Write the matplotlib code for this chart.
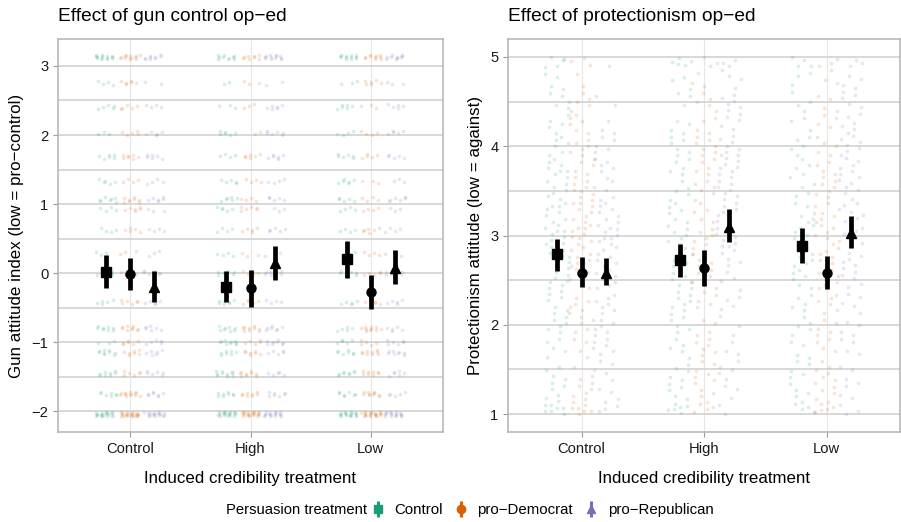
import matplotlib
matplotlib.use("Agg")
import matplotlib.pyplot as plt
from matplotlib.lines import Line2D
import numpy as np

plt.rcParams['font.family'] = ['Liberation Sans', 'DejaVu Sans']

# categories
cred_levels = ['Control', 'High', 'Low']
persuasion = ['Control', 'pro\u2212Democrat', 'pro\u2212Republican']
colors = ['#1B9E77', '#D95F02', '#7570B3']
markers = ['s', 'o', '^']

# point estimates and 95% intervals (rows: persuasion, cols: credibility)
gun_est = [[0.02, -0.20, 0.20], [-0.01, -0.22, -0.28], [-0.20, 0.14, 0.07]]
gun_lo = [[-0.21, -0.42, -0.07], [-0.25, -0.49, -0.52], [-0.42, -0.10, -0.16]]
gun_hi = [[0.26, 0.03, 0.46], [0.22, 0.04, -0.03], [0.03, 0.39, 0.33]]

prot_est = [[2.79, 2.73, 2.88], [2.58, 2.64, 2.58], [2.58, 3.10, 3.03]]
prot_lo = [[2.60, 2.53, 2.69], [2.42, 2.43, 2.40], [2.45, 2.93, 2.86]]
prot_hi = [[2.96, 2.90, 3.08], [2.76, 2.84, 2.77], [2.75, 3.30, 3.22]]

# raw responses: distinct levels and how many answers sit on each
gun_levels = [3.13, 2.76, 2.41, 2.03, 1.69, 1.33, 1.07, 0.93, 0.62, 0.28,
              0.0, -0.42, -0.8, -1.0, -1.15, -1.45, -1.75, -2.04]
gun_counts_control = [[14, 4, 5, 3, 6, 5, 7, 4, 4, 3, 6, 5, 8, 3, 9, 8, 7, 18],
                      [10, 2, 3, 6, 4, 5, 6, 5, 4, 4, 6, 7, 8, 9, 7, 10, 8, 18],
                      [12, 3, 6, 4, 6, 6, 5, 4, 4, 3, 6, 5, 5, 5, 7, 8, 7, 17]]
gun_counts_dem = [[12, 6, 5, 5, 7, 4, 8, 6, 5, 3, 6, 6, 9, 6, 7, 6, 12, 22],
                  [8, 3, 3, 2, 6, 4, 4, 6, 5, 3, 5, 5, 9, 5, 7, 9, 8, 20],
                  [10, 6, 3, 4, 5, 3, 4, 4, 6, 4, 5, 5, 10, 5, 9, 8, 10, 20]]
gun_counts_rep = [[9, 2, 4, 5, 6, 4, 6, 3, 4, 3, 6, 5, 6, 5, 6, 6, 7, 16],
                  [12, 2, 6, 6, 6, 4, 5, 3, 5, 2, 8, 4, 7, 8, 5, 5, 7, 16],
                  [10, 3, 5, 5, 5, 3, 6, 3, 4, 3, 7, 5, 5, 6, 8, 6, 5, 16]]

prot_levels = [1.0, 1.25, 1.5, 1.75, 2.0, 2.25, 2.5, 2.75, 3.0,
               3.25, 3.5, 3.75, 4.0, 4.25, 4.5, 4.75, 5.0]
prot_counts_control = [[7, 6, 4, 5, 6, 6, 8, 9, 10, 8, 7, 8, 6, 5, 5, 4, 5],
                       [6, 5, 5, 5, 6, 7, 6, 7, 7, 6, 5, 5, 6, 4, 3, 3, 5],
                       [4, 5, 5, 4, 5, 5, 6, 6, 6, 6, 4, 5, 5, 3, 4, 3, 4]]
prot_counts_dem = [[6, 7, 3, 5, 5, 6, 6, 8, 9, 8, 8, 6, 6, 6, 5, 2, 3],
                   [4, 5, 6, 6, 4, 5, 6, 7, 6, 5, 6, 5, 7, 4, 5, 3, 2],
                   [5, 6, 6, 4, 5, 6, 7, 7, 7, 6, 6, 5, 5, 4, 4, 3, 3]]
prot_counts_rep = [[3, 4, 5, 5, 6, 7, 7, 7, 9, 7, 5, 6, 5, 3, 2, 0, 1],
                   [2, 3, 5, 3, 3, 4, 4, 5, 8, 7, 7, 8, 8, 5, 6, 4, 4],
                   [3, 4, 3, 4, 4, 5, 5, 6, 7, 7, 6, 7, 7, 6, 5, 4, 3]]

dodge = [-0.2, 0.0, 0.2]


def draw_panel(ax, levels, counts, est, lo, hi, xjit, yjit, ylim, title, ylabel, ymin, ymax):
    x = np.arange(1, 4)
    k = 0
    # raw points, spread with a fixed (non random) R2 jitter pattern
    for g in range(3):
        for c in range(3):
            xs, ys = [], []
            for lev, n in zip(levels, counts[g][c]):
                for _ in range(n):
                    k += 1
                    xs.append(x[c] + dodge[g] + ((0.5 + k * 0.7548777) % 1 - 0.5) * 2 * xjit)
                    y = lev + ((0.5 + k * 0.5698403) % 1 - 0.5) * 2 * yjit
                    if y > ymax:
                        y = 2 * ymax - y
                    if y < ymin:
                        y = 2 * ymin - y
                    ys.append(y)
            ax.scatter(xs, ys, s=7, color=colors[g], alpha=0.17, lw=0, zorder=2)
    # estimates with intervals
    for g in range(3):
        ax.vlines(x + dodge[g], lo[g], hi[g], color='black', lw=3.4, zorder=4)
        ax.plot(x + dodge[g], est[g], ls='', marker=markers[g], ms=6.5, color='black', zorder=5)

    ax.set_xlim(0.4, 3.6)
    ax.set_ylim(*ylim)
    ax.set_xticks(x)
    ax.set_xticklabels(cred_levels)
    ax.set_axisbelow(True)
    for sp in ax.spines.values():
        sp.set_color('#B3B3B3')
        sp.set_linewidth(1.1)
    ax.tick_params(axis='both', colors='#9A9A9A', labelcolor='#1A1A1A', labelsize=10.6, length=3.5, width=0.8)
    ax.grid(axis='y', which='both', color='#D2D2D2', lw=1.2)
    ax.grid(axis='x', color='#E6E6E6', lw=0.8)
    ax.set_title(title, loc='left', fontsize=13.8, pad=13)
    ax.set_xlabel('Induced credibility treatment', fontsize=12.2, labelpad=11)
    ax.set_ylabel(ylabel, fontsize=12.2, labelpad=5)


fig = plt.figure(figsize=(9.01, 5.22), dpi=100)
ax1 = fig.add_axes([58 / 901, 90 / 522, 385 / 901, 393 / 522])
ax2 = fig.add_axes([508 / 901, 90 / 522, 392 / 901, 393 / 522])

draw_panel(ax1, gun_levels, [gun_counts_control, gun_counts_dem, gun_counts_rep],
           gun_est, gun_lo, gun_hi, 0.085, 0.035, (-2.3, 3.39),
           'Effect of gun control op\u2212ed', 'Gun attitude index (low = pro\u2212control)', -2.1, 3.2)
ax1.set_yticks([-2, -1, 0, 1, 2, 3])
ax1.set_yticks([-1.5, -0.5, 0.5, 1.5, 2.5], minor=True)
ax1.tick_params(axis='y', which='minor', length=0)

draw_panel(ax2, prot_levels, [prot_counts_control, prot_counts_dem, prot_counts_rep],
           prot_est, prot_lo, prot_hi, 0.1, 0.12, (0.8, 5.2),
           'Effect of protectionism op\u2212ed', 'Protectionism attitude (low = against)', 1.0, 5.0)
ax2.set_yticks([1, 2, 3, 4, 5])
ax2.set_yticks([1.5, 2.5, 3.5, 4.5], minor=True)
ax2.tick_params(axis='y', which='minor', length=0)

# legend at the bottom
handles = []
for g in range(3):
    bar = Line2D([], [], ls='', marker='|', ms=12, mew=2.2, color=colors[g])
    pt = Line2D([], [], ls='', marker=markers[g], ms=6, color=colors[g])
    handles.append((bar, pt))
fig.text(226 / 901, 1 - 510 / 522, 'Persuasion treatment', fontsize=10.6, va='center', ha='left')
fig.legend(handles, persuasion, loc='center left', bbox_to_anchor=(369 / 901, 1 - 510 / 522),
           ncol=3, frameon=False, fontsize=10.8, handlelength=1.2, handletextpad=0.5,
           columnspacing=0.6, borderpad=0, borderaxespad=0)

fig.savefig('out.png', dpi=100)
